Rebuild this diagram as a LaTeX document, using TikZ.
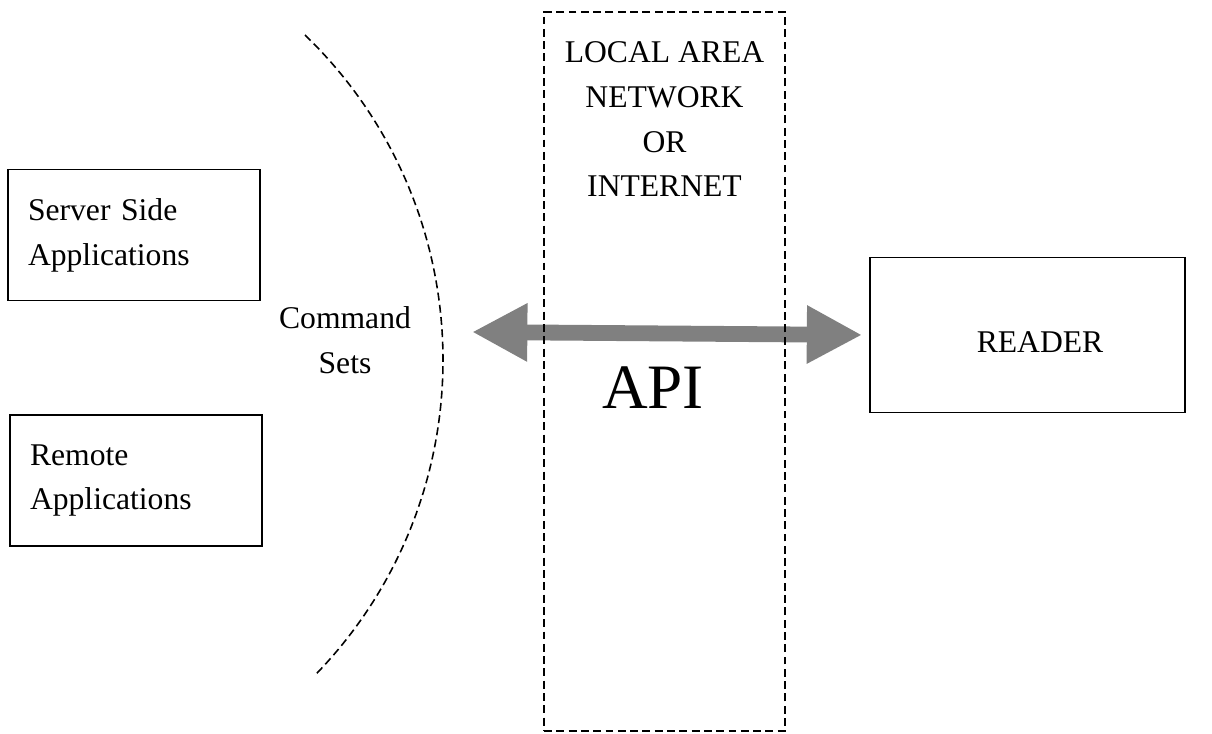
\documentclass[tikz,border=0pt]{standalone}
\usepackage{fontspec}
\setmainfont{Liberation Serif}
\usetikzlibrary{arrows.meta,positioning}

\begin{document}
\begin{tikzpicture}[
    x=0.02cm, y=-0.02cm,
    font=\fontsize{18pt}{25.5pt}\selectfont,
    box/.style={draw, line width=1pt, align=left, text width=4.24cm,
      inner xsep=0.4cm, minimum height=2.62cm},
    rdr/.style={draw, line width=1pt, minimum width=6.3cm, minimum height=3.1cm},
    lan/.style={draw, dash pattern=on 4.5pt off 2.5pt, line width=0.9pt, inner sep=0pt,
      minimum width=4.82cm, minimum height=14.38cm},
    curve/.style={dash pattern=on 4.5pt off 2.5pt, line width=0.9pt},
    api/.style={{Triangle[length=31.5pt,width=31pt]}-{Triangle[length=31.5pt,width=31pt]},
      line width=9pt, draw=black!50}
  ]
    \useasboundingbox (0,0) rectangle (1212,733);
    \node[box] (server) at (134,235) {Server Side\\Applications};
    \node[box] (remote) at (136,480.5) {Remote\\Applications};
    \node[align=center] (cmd) at (345,340) {Command\\Sets};
    \draw[curve] (305,35) arc[start angle=46, end angle=-44, radius=9.04cm];
    \node[rdr] (reader) at (1027.5,335) {};
    \node (readertxt) at (1040,342) {READER};
    \coordinate (apiL) at (472,332);
    \draw[api, shorten >=0.14cm] (apiL) -- (reader.west);
    \node[lan] (lan) at (664.5,371.5) {};
    \node[align=center, below=0.48cm of lan.north] (lantxt) {LOCAL AREA\\NETWORK\\OR\\INTERNET};
    \node[font=\fontsize{36pt}{40pt}\selectfont] (apitxt) at (653,388) {API};
  \end{tikzpicture}
\end{document}
